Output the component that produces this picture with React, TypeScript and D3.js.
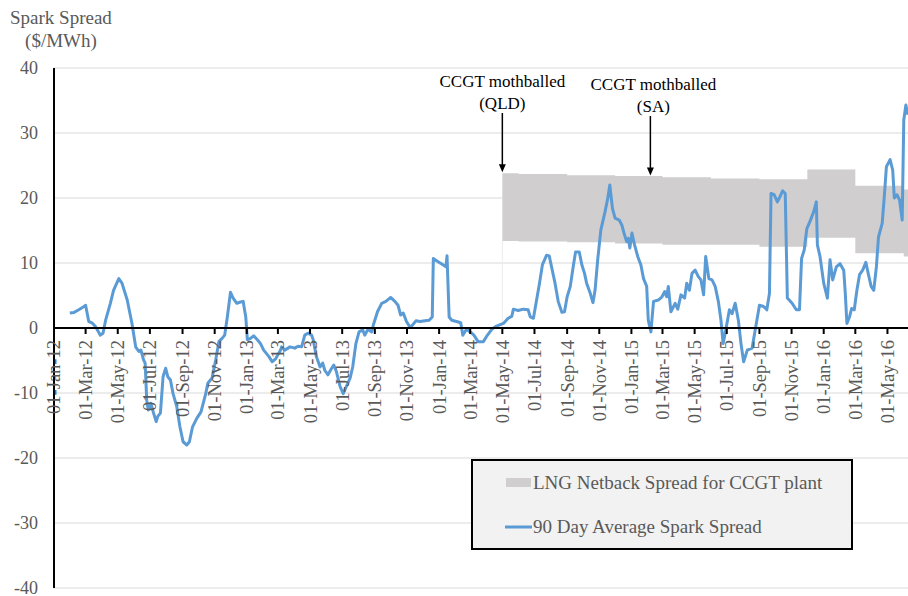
import React from "react";
import * as d3 from "d3";

// 90 Day Average Spark Spread ($/MWh)
const spreadSeries: [string, number][] = [
  ["2012-01-31", 2.3], ["2012-02-08", 2.4], ["2012-02-17", 2.8], ["2012-02-27", 3.3], ["2012-03-01", 3.5],
  ["2012-03-07", 1.0], ["2012-03-13", 0.8], ["2012-03-20", 0.2], ["2012-03-29", -1.1], ["2012-04-03", -0.8],
  ["2012-04-08", 1.2], ["2012-04-17", 3.8], ["2012-04-23", 5.8], ["2012-05-03", 7.6], ["2012-05-09", 6.9],
  ["2012-05-19", 4.3], ["2012-05-28", 0.7], ["2012-06-04", -2.9], ["2012-06-10", -3.6], ["2012-06-14", -3.4],
  ["2012-06-19", -4.9], ["2012-06-22", -5.4], ["2012-06-25", -11.1], ["2012-06-28", -12.6], ["2012-07-03", -11.6],
  ["2012-07-08", -13.1], ["2012-07-13", -14.4], ["2012-07-16", -13.6], ["2012-07-21", -13.1], ["2012-07-26", -7.5],
  ["2012-07-31", -6.2], ["2012-08-04", -7.5], ["2012-08-09", -8.0], ["2012-08-14", -10.1], ["2012-08-21", -12.1],
  ["2012-08-27", -15.2], ["2012-09-02", -17.5], ["2012-09-09", -18.0], ["2012-09-14", -17.5], ["2012-09-20", -15.2],
  ["2012-09-28", -13.9], ["2012-10-06", -12.9], ["2012-10-15", -10.1], ["2012-10-19", -8.5], ["2012-10-27", -7.7],
  ["2012-11-03", -4.9], ["2012-11-09", -2.1], ["2012-11-15", -1.6], ["2012-11-20", -1.1], ["2012-11-25", 1.7],
  ["2012-12-01", 5.5], ["2012-12-06", 4.6], ["2012-12-13", 3.8], ["2012-12-20", 4.0], ["2012-12-25", 4.1],
  ["2012-12-30", 1.7], ["2013-01-02", -1.8], ["2013-01-08", -1.6], ["2013-01-14", -1.2], ["2013-01-21", -1.8],
  ["2013-01-27", -2.4], ["2013-02-02", -3.4], ["2013-02-12", -4.4], ["2013-02-18", -5.2], ["2013-02-25", -4.7],
  ["2013-03-06", -3.4], ["2013-03-08", -2.9], ["2013-03-14", -3.4], ["2013-03-24", -2.9], ["2013-04-02", -3.1],
  ["2013-04-08", -2.8], ["2013-04-15", -2.9], ["2013-04-21", -1.1], ["2013-04-27", -0.8], ["2013-05-04", -1.1],
  ["2013-05-07", -1.8], ["2013-05-13", -4.4], ["2013-05-20", -6.0], ["2013-05-25", -5.4], ["2013-05-29", -6.5],
  ["2013-06-04", -7.2], ["2013-06-11", -6.2], ["2013-06-15", -5.7], ["2013-06-20", -6.7], ["2013-06-27", -9.0],
  ["2013-07-03", -10.1], ["2013-07-09", -9.0], ["2013-07-16", -7.7], ["2013-07-21", -6.0], ["2013-07-27", -2.4],
  ["2013-08-02", -0.6], ["2013-08-09", -0.3], ["2013-08-13", -1.1], ["2013-08-19", -0.2], ["2013-08-26", -0.6],
  ["2013-08-30", 0.7], ["2013-09-06", 2.5], ["2013-09-14", 3.8], ["2013-09-22", 4.1], ["2013-10-01", 4.7],
  ["2013-10-09", 4.1], ["2013-10-15", 3.5], ["2013-10-20", 2.0], ["2013-10-25", 2.3], ["2013-10-31", 1.0],
  ["2013-11-07", 0.1], ["2013-11-12", 0.5], ["2013-11-18", 1.1], ["2013-11-26", 1.0], ["2013-12-05", 1.1],
  ["2013-12-13", 1.2], ["2013-12-19", 1.7], ["2013-12-21", 10.7], ["2013-12-30", 10.2], ["2014-01-09", 9.7],
  ["2014-01-14", 9.4], ["2014-01-16", 11.1], ["2014-01-20", 1.7], ["2014-01-25", 1.2], ["2014-02-03", 1.0],
  ["2014-02-11", 0.8], ["2014-02-15", -1.1], ["2014-02-22", -0.2], ["2014-03-01", -0.6], ["2014-03-08", -1.1],
  ["2014-03-16", -2.1], ["2014-03-26", -2.1], ["2014-04-01", -1.3], ["2014-04-11", -0.2], ["2014-04-20", 0.3],
  ["2014-05-03", 0.7], ["2014-05-12", 1.5], ["2014-05-19", 1.8], ["2014-05-22", 2.9], ["2014-05-31", 2.7],
  ["2014-06-10", 2.9], ["2014-06-19", 2.8], ["2014-06-23", 1.7], ["2014-06-29", 1.5], ["2014-07-05", 4.3],
  ["2014-07-10", 6.6], ["2014-07-16", 9.7], ["2014-07-24", 11.2], ["2014-07-29", 11.1], ["2014-08-03", 9.2],
  ["2014-08-09", 6.9], ["2014-08-15", 4.1], ["2014-08-22", 2.4], ["2014-08-27", 2.5], ["2014-09-01", 4.8],
  ["2014-09-07", 6.4], ["2014-09-13", 9.7], ["2014-09-17", 11.7], ["2014-09-24", 11.7], ["2014-09-29", 9.7],
  ["2014-10-04", 8.4], ["2014-10-08", 6.9], ["2014-10-15", 5.3], ["2014-10-20", 3.9], ["2014-10-24", 5.8],
  ["2014-10-29", 10.5], ["2014-11-04", 15.1], ["2014-11-12", 17.9], ["2014-11-17", 19.9], ["2014-11-21", 22.0],
  ["2014-11-26", 18.4], ["2014-12-01", 16.9], ["2014-12-09", 16.6], ["2014-12-14", 15.8], ["2014-12-19", 14.3],
  ["2014-12-23", 13.3], ["2014-12-26", 13.8], ["2014-12-29", 12.3], ["2015-01-02", 14.6], ["2015-01-07", 12.8],
  ["2015-01-13", 11.0], ["2015-01-19", 9.7], ["2015-01-24", 7.6], ["2015-01-30", 6.4], ["2015-02-02", 1.2],
  ["2015-02-07", -0.6], ["2015-02-12", 4.1], ["2015-02-21", 4.3], ["2015-02-28", 4.8], ["2015-03-05", 5.6],
  ["2015-03-09", 4.8], ["2015-03-12", 6.4], ["2015-03-17", 2.5], ["2015-03-25", 3.8], ["2015-03-30", 2.9],
  ["2015-04-05", 5.1], ["2015-04-12", 4.6], ["2015-04-16", 6.9], ["2015-04-21", 5.8], ["2015-04-26", 8.4],
  ["2015-05-02", 8.9], ["2015-05-08", 7.9], ["2015-05-13", 7.4], ["2015-05-18", 5.1], ["2015-05-22", 11.0],
  ["2015-05-28", 7.6], ["2015-06-03", 7.4], ["2015-06-09", 6.4], ["2015-06-15", 4.1], ["2015-06-20", 1.2],
  ["2015-06-24", -2.4], ["2015-06-28", -0.8], ["2015-07-06", 2.8], ["2015-07-11", 2.2], ["2015-07-17", 3.8],
  ["2015-07-23", 1.2], ["2015-07-28", -2.4], ["2015-08-02", -5.2], ["2015-08-09", -3.4], ["2015-08-18", -3.1],
  ["2015-08-24", -0.3], ["2015-09-01", 3.5], ["2015-09-09", 3.3], ["2015-09-15", 2.8], ["2015-09-20", 5.3],
  ["2015-09-23", 20.7], ["2015-09-29", 20.5], ["2015-10-05", 19.4], ["2015-10-10", 20.2], ["2015-10-15", 21.1],
  ["2015-10-20", 20.7], ["2015-10-24", 4.6], ["2015-11-02", 3.8], ["2015-11-10", 2.8], ["2015-11-16", 2.8],
  ["2015-11-20", 10.7], ["2015-11-25", 12.0], ["2015-11-30", 15.3], ["2015-12-06", 16.4], ["2015-12-13", 17.9],
  ["2015-12-18", 19.4], ["2015-12-20", 12.8], ["2015-12-25", 11.0], ["2016-01-01", 6.9], ["2016-01-08", 4.6],
  ["2016-01-13", 10.5], ["2016-01-18", 7.4], ["2016-01-25", 9.4], ["2016-02-01", 9.9], ["2016-02-08", 8.9],
  ["2016-02-11", 5.3], ["2016-02-14", 0.7], ["2016-02-19", 1.7], ["2016-02-23", 3.0], ["2016-02-28", 2.8],
  ["2016-03-04", 5.8], ["2016-03-09", 8.2], ["2016-03-15", 8.9], ["2016-03-21", 10.1], ["2016-03-26", 8.2],
  ["2016-03-31", 6.4], ["2016-04-05", 5.8], ["2016-04-10", 9.4], ["2016-04-14", 14.0], ["2016-04-21", 16.1],
  ["2016-04-25", 20.2], ["2016-04-29", 24.8], ["2016-05-06", 25.9], ["2016-05-11", 24.3], ["2016-05-14", 20.0],
  ["2016-05-19", 20.5], ["2016-05-24", 19.7], ["2016-05-29", 16.6], ["2016-06-01", 32.0], ["2016-06-05", 34.3],
  ["2016-06-09", 32.8],
];

// LNG Netback Spread for CCGT plant (step band, low/high)
const bandDates = ["2014-05-01", "2014-06-01", "2014-09-01", "2014-12-01", "2015-03-01", "2015-06-01",
  "2015-09-01", "2015-12-01", "2016-03-01", "2016-06-01", "2016-06-09"];
const bandLow = [13.4, 13.3, 13.2, 13.0, 12.8, 12.8, 12.5, 13.9, 11.5, 11.0, 11.0];
const bandHigh = [23.8, 23.7, 23.5, 23.4, 23.2, 23.0, 22.9, 24.4, 21.9, 21.3, 21.3];

const yTicks = [-40, -30, -20, -10, 0, 10, 20, 30, 40];
const xStart = "2012-01-01";
const xEnd = "2016-06-09";
const tickEnd = "2016-05-01";

const annotations = [
  { date: "2014-05-01", lines: ["CCGT mothballed", "(QLD)"], value: 23.8, dxText: 0, tyOffset: 0 },
  { date: "2015-02-06", lines: ["CCGT mothballed", "(SA)"], value: 23.3, dxText: 3, tyOffset: 3 },
];

const legendItems = ["LNG Netback Spread for CCGT plant", "90 Day Average Spark Spread"];

const parse = d3.timeParse("%Y-%m-%d");
const fmt = d3.timeFormat("%d-%b-%y");

export default function App() {
  const W = 908, H = 596;
  const left = 54, right = 908, top = 68, bottom = 588;
  const x = d3.scaleTime().domain([parse(xStart)!, parse(xEnd)!]).range([left, right]);
  const y = d3.scaleLinear().domain([-40, 40]).range([bottom, top]);
  const font = "'Liberation Serif', 'Times New Roman', serif";
  const grey = "#595959";

  const pts = spreadSeries.map(([d, v]) => ({ d: parse(d)!, v }));
  const line = d3.line<{ d: Date; v: number }>().x((p) => x(p.d)).y((p) => y(p.v));
  const band = bandDates.map((d, i) => ({ d: parse(d)!, lo: bandLow[i], hi: bandHigh[i] }));
  const area = d3.area<{ d: Date; lo: number; hi: number }>()
    .x((p) => x(p.d)).y0((p) => y(p.lo)).y1((p) => y(p.hi)).curve(d3.curveStepAfter);

  const xTicks = d3.timeMonth.range(parse(xStart)!, d3.timeDay.offset(parse(tickEnd)!, 1), 2);
  const y0 = y(0);
  const bx = x(parse(bandDates[0])!);

  return (
    <svg width={W} height={H} style={{ display: "block", position: "absolute", left: 0, top: 0, fontFamily: font }}>
      <rect x={0} y={0} width={W} height={H} fill="#fff" />
      {/* gridlines */}
      {yTicks.filter((t) => t !== 0).map((t) => (
        <line key={t} x1={left} x2={right} y1={y(t)} y2={y(t)} stroke="#d9d9d9" strokeWidth={1} />
      ))}
      {/* band */}
      <path d={area(band)!} fill="#d0cece" />
      <line x1={bx} x2={bx} y1={y(bandLow[0])} y2={y0} stroke="#ececec" strokeWidth={1} />
      {/* y tick labels */}
      {yTicks.map((t) => (
        <text key={t} x={38} y={y(t)} dy="0.33em" textAnchor="end" fontSize={18} fill={grey}>{t}</text>
      ))}
      {/* axis title */}
      <text x={10} y={24} fontSize={19} fill={grey}>Spark Spread</text>
      <text x={61} y={47} fontSize={19} fill={grey} textAnchor="middle">($/MWh)</text>
      {/* line */}
      <path d={line(pts)!} fill="none" stroke="#5b9bd5" strokeWidth={3} strokeLinejoin="round" />
      {/* axes */}
      <line x1={left} x2={left} y1={top} y2={bottom} stroke="#000" strokeWidth={2} />
      <line x1={left} x2={right} y1={y0} y2={y0} stroke="#000" strokeWidth={2} />
      {xTicks.map((t, i) => (
        <g key={i}>
          <line x1={x(t)} x2={x(t)} y1={y0} y2={y0 + 6} stroke="#000" strokeWidth={2} />
          <text transform={`translate(${x(t)},${y0 + 12}) rotate(-90)`} dy="0.35em" textAnchor="end"
            fontSize={18.5} fill={grey}>{fmt(t)}</text>
        </g>
      ))}
      {/* annotations */}
      {annotations.map((a, i) => {
        const ax = x(parse(a.date)!);
        const tipY = y(a.value) - 1;
        return (
          <g key={i}>
            <text x={ax + a.dxText} y={87 + a.tyOffset} textAnchor="middle" fontSize={17} fill="#000">{a.lines[0]}</text>
            <text x={ax + a.dxText} y={109 + a.tyOffset} textAnchor="middle" fontSize={17} fill="#000">{a.lines[1]}</text>
            <line x1={ax} x2={ax} y1={113 + a.tyOffset} y2={tipY - 6} stroke="#000" strokeWidth={1.5} />
            <path d={`M${ax - 3.5},${tipY - 8} L${ax + 3.5},${tipY - 8} L${ax},${tipY} Z`} fill="#000" />
          </g>
        );
      })}
      {/* legend */}
      <rect x={472} y={460} width={380} height={89} fill="#f2f2f2" stroke="#000" strokeWidth={2} />
      <rect x={506} y={478} width={25} height={9} fill="#d0cece" />
      <text x={533} y={489} fontSize={19} fill={grey}>{legendItems[0]}</text>
      <line x1={505} x2={532} y1={527} y2={527} stroke="#5b9bd5" strokeWidth={3} />
      <text x={533} y={533} fontSize={19} fill={grey}>{legendItems[1]}</text>
    </svg>
  );
}
